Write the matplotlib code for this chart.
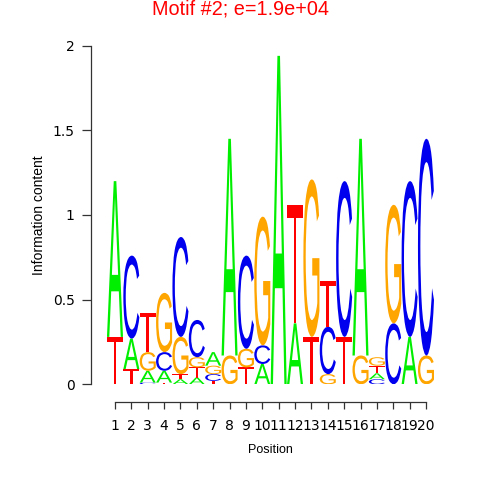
import matplotlib
matplotlib.use("Agg")
import matplotlib.pyplot as plt
from matplotlib.font_manager import FontProperties
from matplotlib.patches import PathPatch
from matplotlib.textpath import TextPath
from matplotlib.transforms import Affine2D

# letter stacks per position, bottom to top: (letter, height in bits)
positions = list(range(1, 21))
stacks = [
    [("T", 0.28), ("A", 0.92)],
    [("T", 0.09), ("A", 0.18), ("C", 0.49)],
    [("C", 0.01), ("A", 0.07), ("G", 0.11), ("T", 0.23)],
    [("T", 0.01), ("A", 0.07), ("C", 0.11), ("G", 0.35)],
    [("A", 0.03), ("T", 0.03), ("G", 0.22), ("C", 0.59)],
    [("A", 0.04), ("T", 0.06), ("G", 0.06), ("C", 0.22)],
    [("T", 0.02), ("C", 0.04), ("G", 0.05), ("A", 0.08)],
    [("G", 0.17), ("A", 1.28)],
    [("T", 0.10), ("G", 0.11), ("C", 0.55)],
    [("A", 0.12), ("C", 0.11), ("G", 0.76)],
    [("A", 1.94)],
    [("A", 0.36), ("T", 0.70)],
    [("T", 0.28), ("G", 0.93)],
    [("G", 0.06), ("C", 0.28), ("T", 0.27)],
    [("T", 0.28), ("C", 0.92)],
    [("G", 0.17), ("A", 1.28)],
    [("C", 0.03), ("A", 0.035), ("T", 0.045), ("G", 0.05)],
    [("C", 0.36), ("G", 0.70)],
    [("A", 0.28), ("C", 0.92)],
    [("G", 0.17), ("C", 1.28)],
]
title = "Motif #2; e=1.9e+04"
y_ticks = [0, 0.5, 1, 1.5, 2]
y_tick_labels = ["0", "0.5", "1", "1.5", "2"]

colors = {"A": "#00ee00", "C": "#0000ee", "G": "#ffa500", "T": "#ff0000"}
font = FontProperties(family="Liberation Sans", weight="normal")


def draw_letter(ax, letter, xc, y0, h, width=0.98):
    path = TextPath((0, 0), letter, size=1, prop=font)
    ext = path.get_extents()
    tr = (Affine2D()
          .translate(-ext.x0, -ext.y0)
          .scale(width / ext.width, h / ext.height)
          .translate(xc - width / 2, y0))
    ax.add_patch(PathPatch(tr.transform_path(path), facecolor=colors[letter],
                           edgecolor="none", transform=ax.transData))


fig = plt.figure(figsize=(4.8, 4.8), dpi=100)
ax = fig.add_axes([0.2225, 0.1994, 0.682, 0.7054])

for pos, stack in zip(positions, stacks):
    y = 0.0
    for letter, h in stack:
        if h > 0.004:
            draw_letter(ax, letter, pos, y, h)
        y += h

ax.set_xlim(0.5, 20.5)
ax.set_ylim(0, 2)
ax.set_xticks(positions)
ax.set_xticklabels([str(p) for p in positions], fontsize=7, family="Liberation Sans")
ax.set_yticks(y_ticks)
ax.set_yticklabels(y_tick_labels, fontsize=10, family="Liberation Sans")

for s in ["top", "right"]:
    ax.spines[s].set_visible(False)
ax.spines["left"].set_position(("outward", 11.6))
ax.spines["bottom"].set_position(("outward", 12.5))
ax.spines["left"].set_bounds(0, 2)
ax.spines["bottom"].set_bounds(1, 20)
for s in ["left", "bottom"]:
    ax.spines[s].set_color("#333333")
    ax.spines[s].set_linewidth(0.9)
ax.tick_params(axis="y", length=6.5, width=0.9, color="#333333", pad=5)
ax.tick_params(axis="x", length=5, width=0.9, color="#333333", pad=7.5)

ax.set_xlabel("Position", fontsize=9, family="Liberation Sans", labelpad=8)
ax.set_ylabel("Information content", fontsize=10, family="Liberation Sans", labelpad=5)
fig.text(0.5, 0.982, title, color="red", fontsize=14.3, family="Liberation Sans",
         ha="center", va="center")

fig.savefig("out.png", dpi=100)
